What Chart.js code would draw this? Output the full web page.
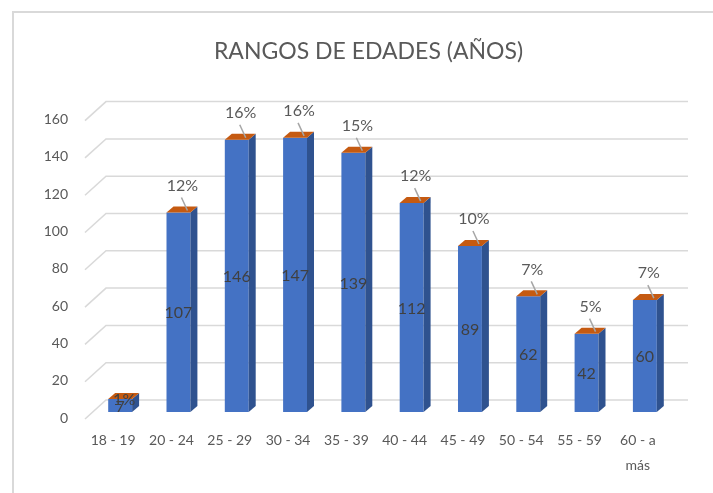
<!DOCTYPE html>
<html lang="es">
<head>
    <meta charset="UTF-8">
    <title>Rangos de edades (años)</title>
    <script src="https://cdn.jsdelivr.net/npm/chart.js"></script>
    <style>
        body {
            margin: 0;
            background: #fff;
        }
        #chart-container {
            width: 713px;
            height: 493px;
            position: relative;
        }
    </style>
</head>
<body>
    <div id="chart-container">
        <canvas id="chart"></canvas>
    </div>

    <script>
        const categories = ['18 - 19', '20 - 24', '25 - 29', '30 - 34', '35 - 39',
                            '40 - 44', '45 - 49', '50 - 54', '55 - 59', ['60 - a', 'más']];
        const counts = [7, 107, 146, 147, 139, 112, 89, 62, 42, 60];
        const percentLabels = ['1%', '12%', '16%', '16%', '15%', '12%', '10%', '7%', '5%', '7%'];
        const yMin = 0;
        const yMax = 160;
        const yStep = 20;

        const FONT = 'Lato, "Open Sans", sans-serif';
        const TEXT = '#595959';

        // 3D look: bar depth and the slant of the back wall
        const DX = 7, DY = 6;

        const threeD = {
            id: 'threeD',
            beforeDraw(chart) {
                const ctx = chart.ctx;
                ctx.save();
                ctx.fillStyle = '#fff';
                ctx.fillRect(0, 0, chart.width, chart.height);
                // chart frame, only its top-left corner is visible
                ctx.strokeStyle = '#d9d9d9';
                ctx.lineWidth = 2;
                ctx.strokeRect(13, 12, chart.width + 20, chart.height + 20);
                ctx.restore();
            },
            beforeDatasetsDraw(chart) {
                const {ctx, chartArea, scales: {y}} = chart;
                ctx.save();
                ctx.strokeStyle = '#d9d9d9';
                ctx.lineWidth = 1.5;
                y.ticks.forEach(t => {
                    const py = y.getPixelForValue(t.value);
                    ctx.beginPath();
                    ctx.moveTo(chartArea.left - 6, py + 7);
                    ctx.lineTo(chartArea.left + 15, py - 12);
                    ctx.lineTo(chartArea.right + 14, py - 12);
                    ctx.stroke();
                });
                ctx.restore();
            },
            afterDatasetsDraw(chart) {
                const ctx = chart.ctx;
                const meta = chart.getDatasetMeta(0);
                ctx.save();
                meta.data.forEach((bar, i) => {
                    const x0 = bar.x - bar.width / 2;
                    const x1 = bar.x + bar.width / 2;
                    const top = bar.y;
                    const base = bar.base;

                    // side face
                    ctx.fillStyle = '#2f528f';
                    ctx.beginPath();
                    ctx.moveTo(x1, top);
                    ctx.lineTo(x1 + DX, top - DY);
                    ctx.lineTo(x1 + DX, base - DY);
                    ctx.lineTo(x1, base);
                    ctx.closePath();
                    ctx.fill();

                    // top face
                    ctx.fillStyle = '#c55a11';
                    ctx.beginPath();
                    ctx.moveTo(x0, top);
                    ctx.lineTo(x1, top);
                    ctx.lineTo(x1 + DX, top - DY);
                    ctx.lineTo(x0 + DX, top - DY);
                    ctx.closePath();
                    ctx.fill();

                    // value inside the bar
                    ctx.font = '16px ' + FONT;
                    ctx.fillStyle = '#404040';
                    ctx.textAlign = 'center';
                    ctx.textBaseline = 'middle';
                    ctx.fillText(counts[i], bar.x, (top + base) / 2 + 1);

                    // percentage with leader line
                    if (base - top < 20) {
                        ctx.fillStyle = '#404040';
                        ctx.fillText(percentLabels[i], bar.x + 4, top + 1);
                    } else {
                        ctx.fillStyle = TEXT;
                        ctx.fillText(percentLabels[i], bar.x + 4, top - 27);
                        ctx.strokeStyle = '#a6a6a6';
                        ctx.lineWidth = 1.5;
                        ctx.beginPath();
                        ctx.moveTo(bar.x + 3, top - 15);
                        ctx.lineTo(bar.x + 9, top - 2);
                        ctx.stroke();
                    }
                });
                ctx.restore();
            }
        };

        const ctx = document.getElementById('chart').getContext('2d');
        const chart = new Chart(ctx, {
            type: 'bar',
            data: {
                labels: categories,
                datasets: [{
                    data: counts,
                    backgroundColor: '#4472c4',
                    barPercentage: 0.41,
                    categoryPercentage: 1
                }]
            },
            options: {
                responsive: true,
                maintainAspectRatio: false,
                animation: false,
                layout: {
                    padding: { left: 24, right: 0, top: 0, bottom: 0 }
                },
                plugins: {
                    legend: { display: false },
                    tooltip: { enabled: false },
                    title: {
                        display: true,
                        text: 'RANGOS DE EDADES (AÑOS)',
                        color: TEXT,
                        font: { family: FONT, size: 23, weight: 'normal' },
                        padding: { top: 38, bottom: 48 }
                    }
                },
                scales: {
                    x: {
                        grid: { display: false, drawTicks: false },
                        border: { display: false },
                        ticks: {
                            color: TEXT,
                            font: { family: FONT, size: 14, lineHeight: 1.8 },
                            padding: 16,
                            labelOffset: -7,
                            maxRotation: 0,
                            autoSkip: false
                        },
                        afterFit: axis => { axis.height = 81; }
                    },
                    y: {
                        min: yMin,
                        max: yMax,
                        grid: { display: false, drawTicks: false },
                        border: { display: false },
                        ticks: {
                            stepSize: yStep,
                            color: TEXT,
                            font: { family: FONT, size: 14 },
                            padding: 23,
                            labelOffset: 6
                        },
                        afterFit: axis => { axis.width = 67; }
                    },
                    // empty right-hand axis, only reserves the space right of the bars
                    yRight: {
                        position: 'right',
                        grid: { display: false, drawTicks: false },
                        border: { display: false },
                        ticks: { display: false },
                        afterFit: axis => { axis.width = 39; }
                    }
                }
            },
            plugins: [threeD]
        });
    </script>
</body>
</html>
